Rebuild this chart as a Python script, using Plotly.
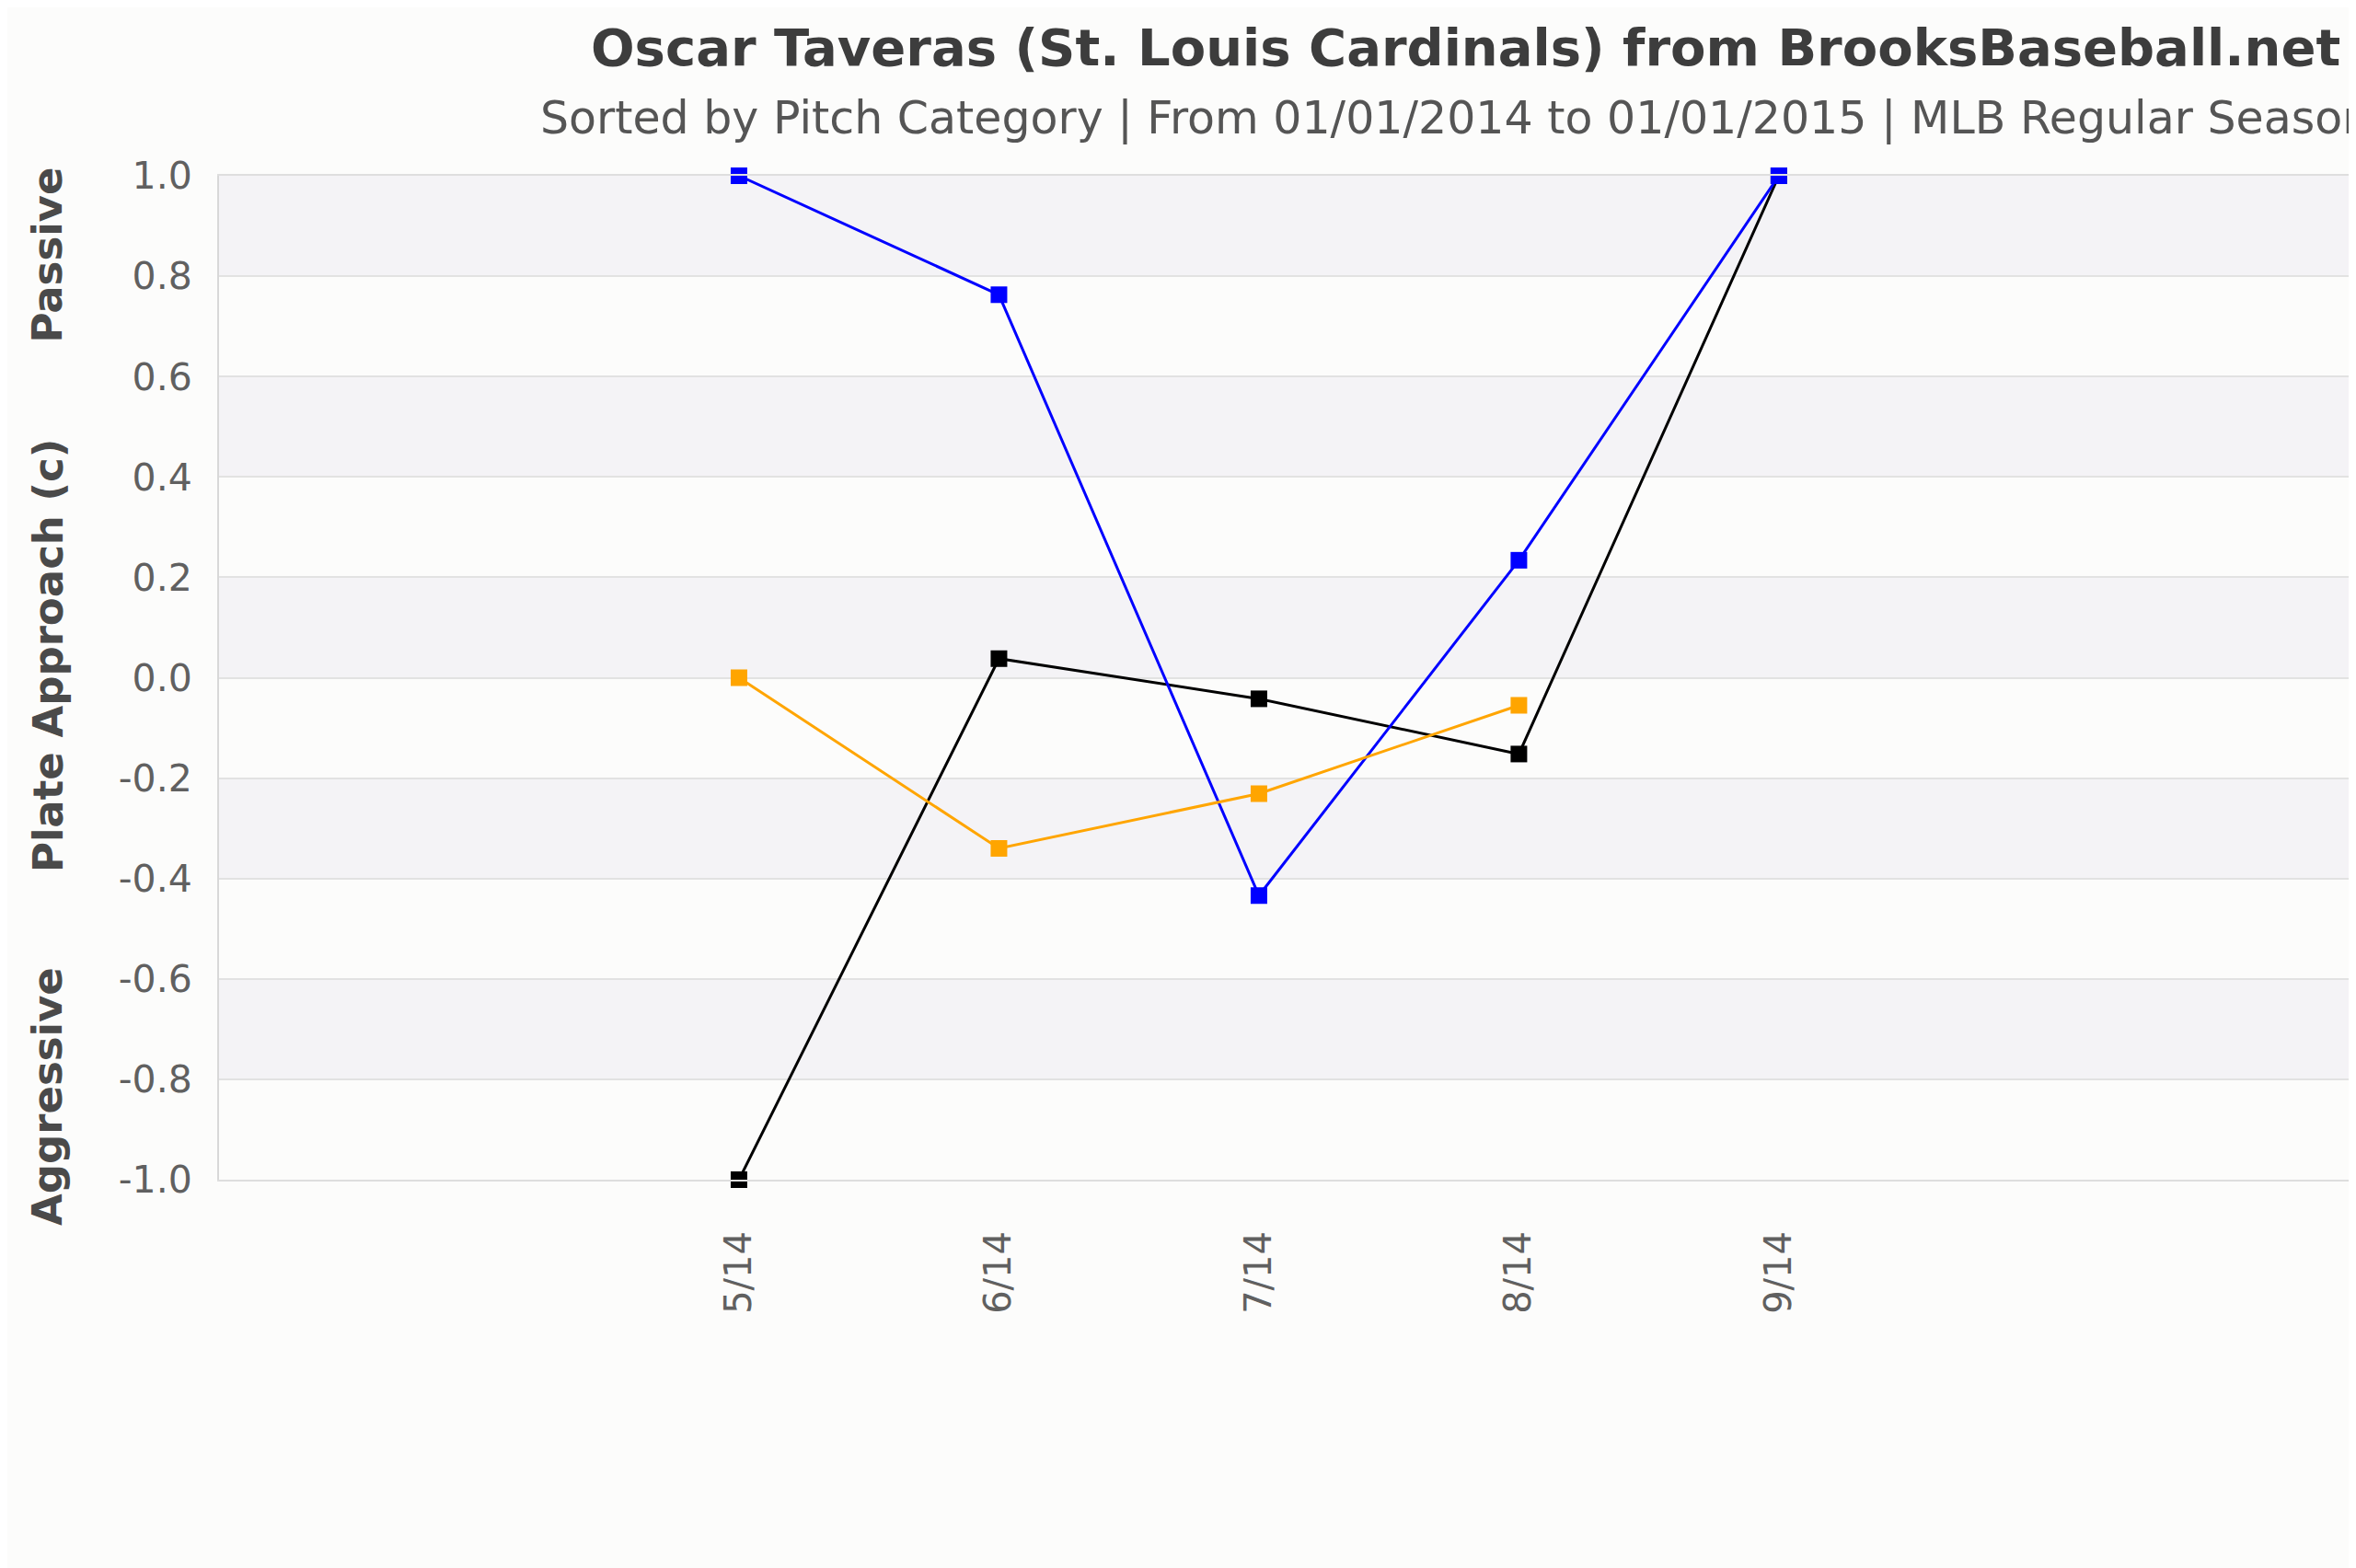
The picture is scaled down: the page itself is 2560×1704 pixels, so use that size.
"""
Plate approach by month for Oscar Taveras, split by pitch category
"""

import plotly.graph_objects as go

# months on the x axis (numeric month, label shown under the tick)
month_num = [5, 6, 7, 8, 9]
month_labels = ["5/14", "6/14", "7/14", "8/14", "9/14"]

# plate approach values per pitch category
hard = [-1.0, 0.038, -0.042, -0.152, 1.0]
breaking = [1.0, 0.763, -0.434, 0.234, 1.0]
offspeed = [0.0, -0.340, -0.231, -0.055, None]

series_names = ["Hard", "Breaking", "Offspeed"]
series_colors = ["#000000", "#0000ff", "#ffa500"]

y_ticks = [-1.0, -0.8, -0.6, -0.4, -0.2, 0.0, 0.2, 0.4, 0.6, 0.8, 1.0]

TITLE = "Oscar Taveras (St. Louis Cardinals) from BrooksBaseball.net"
SUBTITLE = ("Sorted by Pitch Category | From 01/01/2014 to 01/01/2015 | "
            "MLB Regular Season")


def make_chart():
    """
    returns: figure with the three pitch category lines
    """
    fig = go.Figure()

    for name, vals, col in zip(series_names, [hard, breaking, offspeed], series_colors):
        fig.add_trace(go.Scatter(
            x=month_num, y=vals, name=name, mode="lines+markers",
            line=dict(color=col, width=3),
            marker=dict(symbol="square", size=18, color=col),
            cliponaxis=False, connectgaps=False))

    # alternating bands between the gridlines
    for i in range(len(y_ticks) - 1):
        if i % 2 == 1:
            fig.add_shape(type="rect", xref="paper", yref="y", x0=0, x1=1,
                          y0=y_ticks[i], y1=y_ticks[i + 1],
                          fillcolor="#f4f3f6", line_width=0, layer="below")

    tick_font = dict(family="DejaVu Sans", size=41, color="#606060")
    lab_font = dict(family="DejaVu Sans", size=45, color="#4a4a4a")

    # page body has an 8px margin, so the figure is 8px smaller each way
    fig.update_layout(
        width=2552, height=1696,
        margin=dict(l=230, r=0, t=183, b=422),
        paper_bgcolor="#fcfcfb", plot_bgcolor="#fcfcfb",
        showlegend=False,
        xaxis=dict(range=[3, 11.22], tickvals=month_num, ticktext=month_labels,
                   tickangle=-90, tickfont=dict(family="DejaVu Sans", size=40,
                                                color="#606060"),
                   showgrid=False, zeroline=False, ticks="", ticklabelstandoff=38,
                   showline=True, mirror=True, linecolor="#dedede", linewidth=2),
        yaxis=dict(range=[-1, 1], tickvals=y_ticks,
                   ticktext=["%.1f" % v for v in y_ticks],
                   tickfont=tick_font, gridcolor="#e2e2e2", gridwidth=2,
                   zeroline=False, showline=True, linecolor="#d8d8d8",
                   linewidth=2, ticks="", ticklabelstandoff=19),
    )

    # y axis title in three parts
    for txt, ypos in [("<b>Passive</b>", 0.9207), ("<b>Plate Approach (c)</b>", 0.5215),
                      ("<b>Aggressive</b>", 0.0825)]:
        fig.add_annotation(text=txt, xref="paper", yref="paper", x=-0.0801, y=ypos,
                           textangle=-90, showarrow=False, font=lab_font,
                           xanchor="center", yanchor="middle")

    fig.add_annotation(text="<b>" + TITLE + "</b>", xref="paper", yref="paper",
                       x=0.1731, y=1.128, xanchor="left", yanchor="middle",
                       showarrow=False,
                       font=dict(family="DejaVu Sans", size=56, color="#3d3d3d"))
    fig.add_annotation(text=SUBTITLE, xref="paper", yref="paper",
                       x=0.1494, y=1.0577, xanchor="left", yanchor="middle",
                       showarrow=False,
                       font=dict(family="DejaVu Sans", size=49, color="#555555"))
    return fig


def main():
    fig = make_chart()
    fig.write_html("out.html")


if __name__ == "__main__":
    main()
